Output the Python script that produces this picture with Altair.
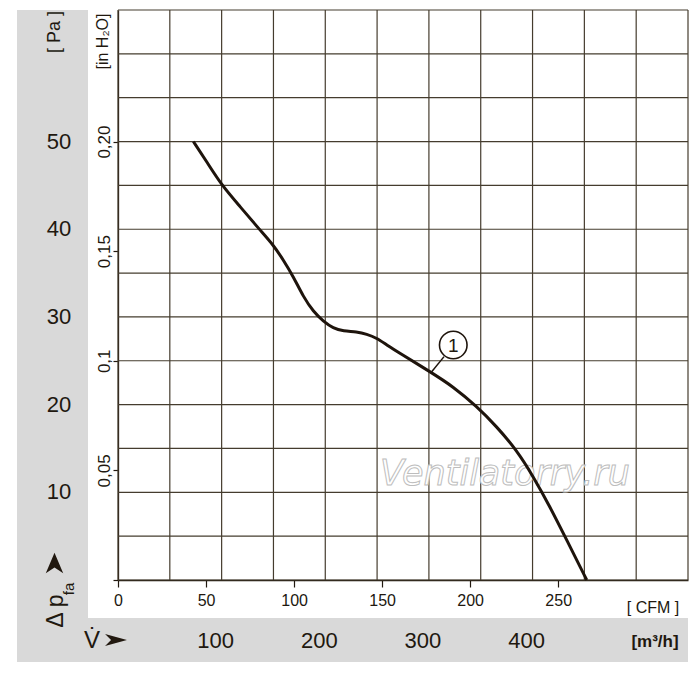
import altair as alt
import pandas as pd

# ---------------- data ----------------
flow_m3h = [72.7, 85.6, 100.1, 117.7, 137.0, 149.9, 159.5, 169.2, 178.8, 188.5,
            198.1, 207.7, 217.4, 230.3, 240.0, 249.6, 259.3, 272.1, 301.1, 323.5,
            346.1, 365.4, 384.7, 400.7, 416.8, 433.0, 452.3]
pressure_pa = [50.0, 47.7, 45.0, 42.6, 39.9, 38.2, 36.5, 34.6, 32.3, 30.6,
               29.5, 28.7, 28.4, 28.3, 28.05, 27.6, 26.8, 25.85, 23.75, 22.05,
               19.8, 17.5, 14.8, 11.8, 8.35, 4.55, 0.0]

grid_m3h = list(range(0, 551, 50))
grid_pa = list(range(0, 66, 5))
cfm_ticks = [0, 50, 100, 150, 200, 250]
m3h_labels = [100, 200, 300, 400]
pa_labels = [10, 20, 30, 40, 50]
inh2o_ticks = [0.0, 0.05, 0.10, 0.15, 0.20]
inh2o_text = ["", "0,05", "0,1", "0,15", "0,20"]
curve_id = "1"

M3H_PER_CFM = 1.699
PA_PER_INH2O = 250.0

# ---------------- style ----------------
FONT = "Liberation Sans, Arial, sans-serif"
INK = "#21180f"
GRID = "#453c2e"
BAND = "#d9d9d9"
W, H = 570, 570

xs = alt.Scale(domain=[0, 550], nice=False, zero=False)
ys = alt.Scale(domain=[0, 65], nice=False, zero=False)

cfm_vals = [c * M3H_PER_CFM for c in cfm_ticks]
inh_vals = [t * PA_PER_INH2O for t in inh2o_ticks]
inh_expr = " : ".join(
    [f"abs(datum.value - {v}) < 0.01 ? '{s}'" for v, s in zip(inh_vals, inh2o_text)]
) + " : ''"

X_AX = alt.Axis(
    values=cfm_vals, labelExpr=f"format(round(datum.value / {M3H_PER_CFM}), 'd')",
    grid=False, domainColor=INK, domainWidth=1.3, tickColor=INK, tickWidth=1.2,
    tickSize=7, labelFont=FONT, labelFontSize=16, labelColor=INK, labelPadding=5,
    labelFlush=False, labelOverlap=False, title=None)
Y_AX = alt.Axis(
    values=inh_vals, labelExpr=inh_expr, grid=False, domainColor=INK,
    domainWidth=1.3, tickColor=INK, tickWidth=1.2, tickSize=5, labelFont=FONT,
    labelFontSize=17, labelColor=INK, labelPadding=4, labelAngle=270,
    labelAlign="center", labelBaseline="alphabetic", labelFlush=False,
    labelOverlap=False, title="[in H₂O]", titleFont=FONT, titleFontSize=16,
    titleFontWeight="normal", titleColor=INK, titleAngle=270, titleX=-11,
    titleY=31, titleAlign="center", titleBaseline="alphabetic")


def X(f):
    return alt.X(f, scale=xs, axis=X_AX)


def Y(f):
    return alt.Y(f, scale=ys, axis=Y_AX)


curve_df = pd.DataFrame({"m3h": flow_m3h, "pa": pressure_pa})
vgrid_df = pd.DataFrame({"x": grid_m3h})
hgrid_df = pd.DataFrame({"y": grid_pa})
pa_df = pd.DataFrame({"y": pa_labels, "t": [str(v) for v in pa_labels]})
m3_df = pd.DataFrame({"x": m3h_labels, "t": [str(v) for v in m3h_labels]})
one = pd.DataFrame({"a": [0]})

# gray L-shaped band
band_left = alt.Chart(one).mark_rect(color=BAND).encode(
    x=alt.value(-101), x2=alt.value(-30), y=alt.value(0), y2=alt.value(652))
band_bottom = alt.Chart(one).mark_rect(color=BAND).encode(
    x=alt.value(-101), x2=alt.value(570), y=alt.value(608), y2=alt.value(652))

vgrid = alt.Chart(vgrid_df).mark_rule(color=GRID, strokeWidth=1.2).encode(
    x=X("x:Q"), y=alt.value(0), y2=alt.value(H))
hgrid = alt.Chart(hgrid_df).mark_rule(color=GRID, strokeWidth=1.2).encode(
    y=Y("y:Q"), x=alt.value(0), x2=alt.value(W))

watermark = alt.Chart(one).mark_text(
    text="Ventilatorry.ru", font="DejaVu Sans", fontStyle="italic", fontSize=35,
    fill="white", stroke="#bdbdbd", strokeWidth=1, align="center",
    baseline="alphabetic").encode(x=alt.value(387), y=alt.value(475))

curve = alt.Chart(curve_df).mark_line(
    color="#1e140c", strokeWidth=3, interpolate="basis").encode(
    x=X("m3h:Q"), y=Y("pa:Q"))

# curve marker "1"
lab_x, lab_y = 323.5, 26.8
lead = pd.DataFrame({"x": [314.6], "y": [25.47], "x2": [302.7], "y2": [23.75]})
leader = alt.Chart(lead).mark_rule(color="#1e140c", strokeWidth=1.5).encode(
    x=X("x:Q"), y=Y("y:Q"), x2="x2:Q", y2="y2:Q")
lab_df = pd.DataFrame({"x": [lab_x], "y": [lab_y], "t": [curve_id]})
circ = alt.Chart(lab_df).mark_point(
    shape="circle", size=760, filled=True, fill="white", stroke="#1e140c",
    strokeWidth=1.6, opacity=1).encode(x=X("x:Q"), y=Y("y:Q"))
circ_t = alt.Chart(lab_df).mark_text(
    font=FONT, fontSize=19, color=INK, align="center", baseline="middle", dy=1).encode(
    x=X("x:Q"), y=Y("y:Q"), text="t:N")

# Pa labels in gray band
pa_t = alt.Chart(pa_df).mark_text(
    font=FONT, fontSize=22, color=INK, align="center", baseline="middle").encode(
    x=alt.value(-59), y=Y("y:Q"), text="t:N")

# m3/h labels in gray band
m3_t = alt.Chart(m3_df).mark_text(
    font=FONT, fontSize=22, color=INK, align="center", baseline="middle", dx=-6).encode(
    x=X("x:Q"), y=alt.value(631), text="t:N")


def txt(s, x, y, size, angle=0, weight="normal", font=FONT, align="center"):
    return alt.Chart(one).mark_text(
        text=s, font=font, fontSize=size, color=INK, angle=angle,
        fontWeight=weight, align=align, baseline="middle").encode(
        x=alt.value(x), y=alt.value(y))


def arrow(path, x, y, size):
    return alt.Chart(one).mark_point(
        shape=path, size=size, filled=True, color=INK, opacity=1,
        strokeWidth=0).encode(x=alt.value(x), y=alt.value(y))


misc = [
    txt("[ Pa ]", -63, 22, 18, angle=270),
    txt("Δ p", -62, 601, 23, angle=270),
    txt("fa", -49, 579, 15, angle=270),
    arrow("M-0.85,1 L0,-1 L0.85,1 L0,0.45 Z", -63.5, 553, 420),
    txt("V̇", -26, 631, 24),
    arrow("M-1,-0.55 L1,0 L-1,0.55 L-0.45,0 Z", -2, 630, 480),
    txt("[  CFM  ]", 535, 598, 16),
    txt("[m³/h]", 537, 632, 17, weight="bold"),
]

chart = alt.layer(
    band_left, band_bottom, vgrid, hgrid, watermark, curve, leader, circ, circ_t,
    pa_t, m3_t, *misc
).properties(
    width=W, height=H,
    autosize=alt.AutoSizeParams(type="none"),
    padding={"left": 110, "top": 2, "right": 4, "bottom": 85},
    background="white",
).configure_view(stroke=None)

chart.save("out.html", embed_options={"renderer": "svg", "actions": False})
